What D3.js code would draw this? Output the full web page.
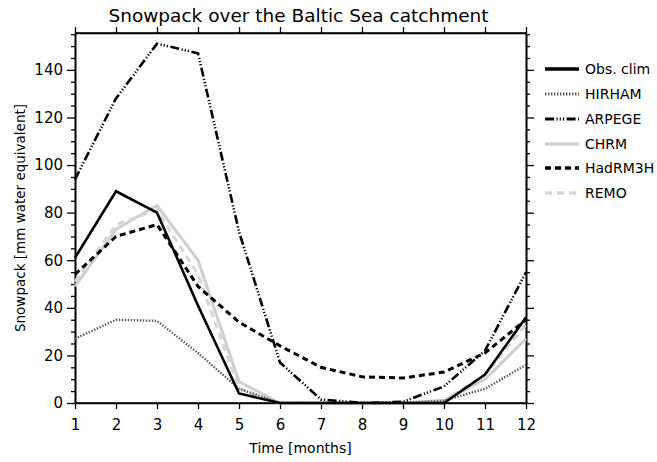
<!DOCTYPE html>
<html>
<head>
<meta charset="utf-8">
<script src="https://cdn.jsdelivr.net/npm/d3@7"></script>
<style>
  html, body { margin: 0; padding: 0; background: #fff; }
  svg { display: block; font-family: "DejaVu Sans", sans-serif; }
</style>
</head>
<body>
<svg id="chart" width="657" height="462"></svg>
<script>
const months = [1, 2, 3, 4, 5, 6, 7, 8, 9, 10, 11, 12];
const obsClim = [61, 89, 80, 41, 4, 0, 0, 0, 0, 0, 12, 36];
const hirham  = [27, 35, 34.5, 21, 6, 0, 0, 0, 0, 1, 6, 16];
const arpege  = [94, 128, 151, 147, 72, 17, 1.5, 0, 0.5, 7, 22, 55];
const chrm    = [49, 73, 83, 60, 9, 0, 0, 0, 0, 1, 10, 27];
const hadrm3h = [54, 70, 75, 49, 34, 24, 15, 11, 10.5, 13, 21, 35];
const remo    = [51, 75, 81, 54, 6, 0, 0, 0, 0, 1, 12, 33];
const yTicks = [0, 20, 40, 60, 80, 100, 120, 140];
const seriesNames = ["Obs. clim", "HIRHAM", "ARPEGE", "CHRM", "HadRM3H", "REMO"];

const styles = {
  "Obs. clim": { color: "#000", width: 2.6, dash: null },
  "HIRHAM":    { color: "#5a5a5a", width: 2.4, dash: "1.4,1.6" },
  "ARPEGE":    { color: "#000", width: 2.6, dash: "9,2.5,1.2,2,1.2,2,1.2,2.5" },
  "CHRM":      { color: "#cfcfcf", width: 3, dash: null },
  "HadRM3H":   { color: "#000", width: 3, dash: "6,4" },
  "REMO":      { color: "#d6d6d6", width: 3, dash: "7,5" }
};
const seriesData = {
  "Obs. clim": obsClim, "HIRHAM": hirham, "ARPEGE": arpege,
  "CHRM": chrm, "HadRM3H": hadrm3h, "REMO": remo
};
const drawOrder = ["CHRM", "REMO", "HIRHAM", "HadRM3H", "ARPEGE", "Obs. clim"];

const svg = d3.select("#chart");
const L = 75, R = 526, T = 33, B = 403;
const x = d3.scaleLinear().domain([1, 12]).range([L, R]);
const y = d3.scaleLinear().domain([0, 155.5]).range([B, T]);

// axes
const minor = d3.range(0, 156, 5).filter(v => v % 20 !== 0);
svg.append("g").attr("transform", `translate(${L},0)`)
  .call(d3.axisLeft(y).tickValues(yTicks).tickSize(8).tickPadding(4).tickSizeOuter(0));
svg.append("g").attr("transform", `translate(${L},0)`)
  .call(d3.axisLeft(y).tickValues(minor).tickSize(4).tickFormat("").tickSizeOuter(0));
svg.append("g").attr("transform", `translate(${R},0)`)
  .call(d3.axisRight(y).tickValues(yTicks).tickSize(8).tickFormat("").tickSizeOuter(0));
svg.append("g").attr("transform", `translate(${R},0)`)
  .call(d3.axisRight(y).tickValues(minor).tickSize(4).tickFormat("").tickSizeOuter(0));
svg.append("g").attr("transform", `translate(0,${B})`)
  .call(d3.axisBottom(x).tickValues(months).tickSize(6).tickPadding(10).tickFormat(d3.format("d")).tickSizeOuter(0));
svg.append("g").attr("transform", `translate(0,${T})`)
  .call(d3.axisTop(x).tickValues(months).tickSize(6).tickFormat("").tickSizeOuter(0));

svg.selectAll(".domain").attr("stroke", "#000").attr("stroke-width", 1.6);
svg.selectAll(".tick line").attr("stroke", "#000").attr("stroke-width", 1.3);
svg.selectAll(".tick text").attr("fill", "#000").style("font-size", "15px")
  .style("font-family", "DejaVu Sans, sans-serif");
svg.append("line").attr("x1", L).attr("x2", R).attr("y1", T).attr("y2", T).attr("stroke", "#000").attr("stroke-width", 1.6);
svg.append("line").attr("x1", L).attr("x2", R).attr("y1", B).attr("y2", B).attr("stroke", "#000").attr("stroke-width", 1.6);

// lines
const line = d3.line().x((d, i) => x(months[i])).y(d => y(d));
drawOrder.forEach(name => {
  const s = styles[name];
  svg.append("path").datum(seriesData[name])
    .attr("d", line)
    .attr("fill", "none")
    .attr("stroke", s.color)
    .attr("stroke-width", s.width)
    .attr("stroke-dasharray", s.dash)
    .attr("stroke-linejoin", "miter");
});

// title
svg.append("text").attr("x", (L + R) / 2 - 2).attr("y", 22).attr("text-anchor", "middle")
  .style("font-size", "18.5px").attr("fill", "#000")
  .text("Snowpack over the Baltic Sea catchment");

// axis titles
svg.append("text").attr("x", (L + R) / 2).attr("y", 453).attr("text-anchor", "middle")
  .style("font-size", "14px").attr("fill", "#000").text("Time [months]");
svg.append("text").attr("transform", `translate(25,${(T + B) / 2}) rotate(-90)`)
  .attr("text-anchor", "middle").style("font-size", "13.5px").attr("fill", "#000")
  .text("Snowpack [mm water equivalent]");

// legend
const legY = [69, 94, 119, 144, 168, 193];
seriesNames.forEach((name, i) => {
  const s = styles[name];
  svg.append("line").attr("x1", 545).attr("x2", 579).attr("y1", legY[i]).attr("y2", legY[i])
    .attr("stroke", s.color).attr("stroke-width", name === "Obs. clim" ? 3.5 : s.width + 0.6)
    .attr("stroke-dasharray", s.dash);
  svg.append("text").attr("x", 585).attr("y", legY[i] + 5).style("font-size", "14px")
    .attr("fill", "#000").text(name);
});
</script>
</body>
</html>
